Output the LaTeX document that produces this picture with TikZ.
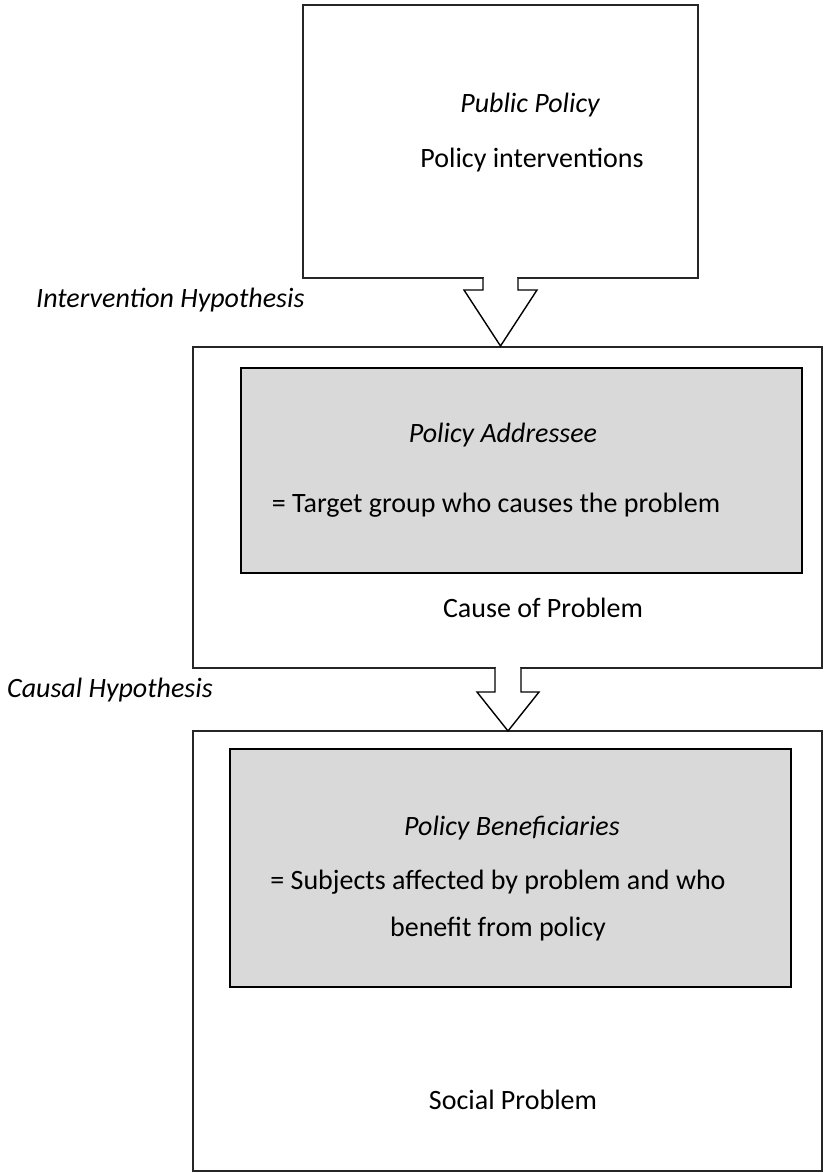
\documentclass[tikz,border=0pt]{standalone}
\usepackage{fontspec}
\setmainfont{Carlito}
\usetikzlibrary{calc}
\begin{document}
\begin{tikzpicture}[x=1pt,y=-1pt,
  outerbox/.style={draw=black!85,line width=1.4pt,fill=white},
  innerbox/.style={draw=black,line width=2pt,fill=black!15},
  txt/.style={font=\fontsize{28}{47}\selectfont,inner sep=0pt,align=center},
  itxt/.style={txt,font=\fontsize{28}{47}\selectfont\itshape},
  bigarrow/.style={draw=black,line width=1.4pt,fill=white,line join=miter}]
\useasboundingbox (0,0) rectangle (824,1173);
% boxes
\draw[outerbox] (303,5) rectangle (698,278);
\draw[outerbox] (193,347) rectangle (822,668);
\draw[innerbox] (241,368) rectangle (802,573);
\draw[outerbox] (193,731) rectangle (822,1171);
\draw[innerbox] (230,749) rectangle (791,987);
% named anchors for arrows
\coordinate (a1top) at (500.5,278);
\coordinate (a1tip) at (500.5,346);
\coordinate (a2top) at (508,668);
\coordinate (a2tip) at (508,731);
% arrow 1
\fill[white] ($(a1top)+(-16.5,-1.5)$) rectangle ($(a1top)+(16.5,1.5)$);
\draw[bigarrow] ($(a1top)+(-17.5,0)$) -- ($(a1top)+(-17.5,12)$) -- ($(a1top)+(-36.5,12)$)
  -- (a1tip) -- ($(a1top)+(36.5,12)$) -- ($(a1top)+(17.5,12)$) -- ($(a1top)+(17.5,0)$);
% arrow 2
\fill[white] ($(a2top)+(-12,-1.5)$) rectangle ($(a2top)+(12,1.5)$);
\draw[bigarrow] ($(a2top)+(-13,0)$) -- ($(a2top)+(-13,24)$) -- ($(a2top)+(-31,24)$)
  -- (a2tip) -- ($(a2top)+(31,24)$) -- ($(a2top)+(13,24)$) -- ($(a2top)+(13,0)$);
% texts
\node[itxt] (pp) at (530,105) {Public Policy};
\node[txt] (pi) at (532,160) {Policy interventions};
\node[itxt,anchor=west] (ih) at (36,300) {Intervention Hypothesis};
\node[itxt] (pa) at (503,435) {Policy Addressee};
\node[txt] (tg) at (496,505) {= Target group who causes the problem};
\node[txt] (cp) at (543,608) {Cause of Problem};
\node[itxt,anchor=west] (ch) at (7,690) {Causal Hypothesis};
\node[itxt] (pb) at (512,828) {Policy Beneficiaries};
\node[txt] (sa) at (498,906) {= Subjects affected by problem and who\\benefit from policy};
\node[txt] (sp) at (513,1100) {Social Problem};
\end{tikzpicture}
\end{document}
